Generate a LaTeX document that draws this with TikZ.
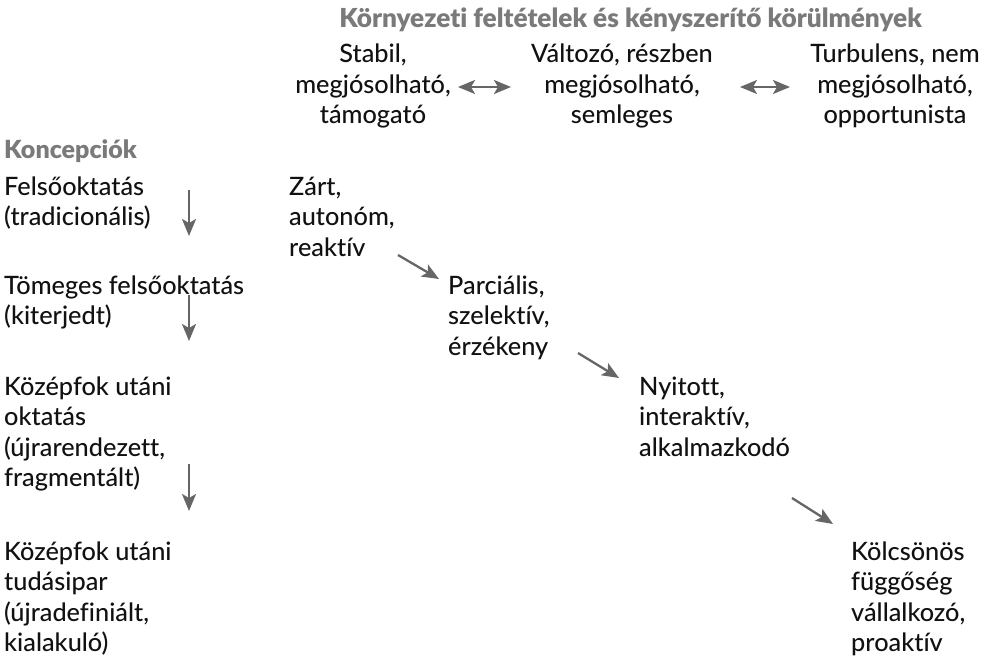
\documentclass[tikz,border=0pt]{standalone}
\usepackage{fontspec}
\setmainfont{Lato Medium}[Ligatures=NoCommon]
\newfontfamily\headfont{Lato Black}[Ligatures=NoCommon]
\usetikzlibrary{arrows.meta}
\definecolor{headgray}{HTML}{7A7A7A}
\definecolor{arrowgray}{HTML}{666666}
\definecolor{txtcol}{HTML}{111111}
\newcommand\tlines[2]{\begin{tabular}[t]{@{}#1@{}}#2\end{tabular}}
\begin{document}
\begin{tikzpicture}[x=1pt,y=-1pt,
  txt/.style={inner sep=0pt, font=\fontsize{25.3}{30.5}\selectfont, text=txtcol},
  headtxt/.style={inner sep=0pt, font=\fontsize{25}{30.5}\selectfont\headfont, text=headgray},
  tip/.style={},
  arr/.style={draw=arrowgray, line width=2.3pt, -{Stealth[length=17pt,width=14pt,inset=4pt]}},
  darr/.style={draw=arrowgray, line width=2.3pt, {Stealth[length=17pt,width=14pt,inset=4pt]}-{Stealth[length=17pt,width=14pt,inset=4pt]}}]
\useasboundingbox (0,0) rectangle (985,661);
% header
\node[headtxt, anchor=base, font=\fontsize{26.2}{30.5}\selectfont\headfont] (title) at (630.5,28) {Környezeti feltételek és kényszerítő körülmények};
\node[txt, anchor=base] (env1) at (373,63) {\tlines{c}{Stabil,\\megjósolható,\\támogató}};
\node[txt, anchor=base] (env2) at (622,63) {\tlines{c}{Változó, részben\\megjósolható,\\semleges}};
\node[txt, anchor=base] (env3) at (895,63) {\tlines{c}{Turbulens, nem\\megjósolható,\\opportunista}};
\coordinate (h1a) at (458,87);
\coordinate (h1b) at (511,87);
\coordinate (h2a) at (740,87);
\coordinate (h2b) at (790,87);
\draw[darr] (h1a) -- (h1b);
\draw[darr] (h2a) -- (h2b);
% concepts
\node[headtxt, anchor=base west] (konc) at (4,158) {Koncepciók};
\node[txt, anchor=base west] (c1) at (4,195) {\tlines{l}{Felsőoktatás\\(tradicionális)}};
\node[txt, anchor=base west] (c2) at (4,294) {\tlines{l}{Tömeges felsőoktatás\\(kiterjedt)}};
\node[txt, anchor=base west] (c3) at (4,395) {\tlines{l}{Középfok utáni\\oktatás\\(újrarendezett,\\fragmentált)}};
\node[txt, anchor=base west] (c4) at (4,560) {\tlines{l}{Középfok utáni\\tudásipar\\(újradefiniált,\\kialakuló)}};
\coordinate (v1a) at (189,190);
\coordinate (v1b) at (189,236);
\coordinate (v2a) at (189,295);
\coordinate (v2b) at (189,341);
\coordinate (v3a) at (189,464);
\coordinate (v3b) at (189,511);
\draw[arr] (v1a) -- (v1b);
\draw[arr] (v2a) -- (v2b);
\draw[arr] (v3a) -- (v3b);
% organisations
\node[txt, anchor=base west] (o1) at (289,195) {\tlines{l}{Zárt,\\autonóm,\\reaktív}};
\node[txt, anchor=base west] (o2) at (448,294) {\tlines{l}{Parciális,\\szelektív,\\érzékeny}};
\node[txt, anchor=base west] (o3) at (639,395) {\tlines{l}{Nyitott,\\interaktív,\\alkalmazkodó}};
\node[txt, anchor=base west] (o4) at (851,560) {\tlines{l}{Kölcsönös\\függőség\\vállalkozó,\\proaktív}};
\coordinate (d1a) at (398,255);
\coordinate (d1b) at (439,279);
\coordinate (d2a) at (578,353);
\coordinate (d2b) at (619,378);
\coordinate (d3a) at (792,498);
\coordinate (d3b) at (833,524);
\draw[arr] (d1a) -- (d1b);
\draw[arr] (d2a) -- (d2b);
\draw[arr] (d3a) -- (d3b);
\end{tikzpicture}
\end{document}
